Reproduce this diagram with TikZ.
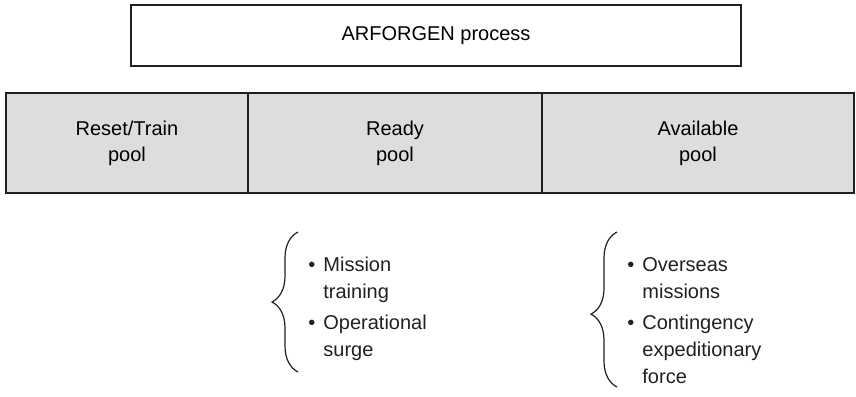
\documentclass[tikz,border=0pt]{standalone}
\usepackage{fontspec}
\setmainfont{Liberation Sans}
\usepackage{xcolor}
\usepackage{tikz}
\usetikzlibrary{positioning, decorations.pathreplacing}

\definecolor{poolgray}{RGB}{220,221,223}
\definecolor{edgegray}{RGB}{35,31,32}

\begin{document}
\begin{tikzpicture}[x=0.5pt, y=-0.5pt, node distance=0pt,
    titlebox/.style={rectangle, draw=edgegray, line width=1pt, minimum width=305pt, minimum height=30.5pt, font=\fontsize{10}{13}\selectfont},
    pool/.style={rectangle, draw=edgegray, fill=poolgray, line width=1pt, minimum height=50pt, align=center, inner sep=0pt, outer sep=0pt, font=\fontsize{10}{13}\selectfont},
    items/.style={anchor=base west, inner sep=0pt, font=\fontsize{10}{13.5}\selectfont, text=edgegray},
    curly/.style={draw=edgegray, line width=0.6pt, decorate, decoration={brace, amplitude=13pt}}]

    \useasboundingbox (0,0) rectangle (856,396);

    \node [titlebox] (arforgen) at (436,35.5) {ARFORGEN process};

    \node [pool, minimum width=121pt, anchor=north west] (reset) at (6,93) {Reset/Train\\pool};
    \node [pool, minimum width=147pt, right=0pt of reset] (ready) {Ready\\pool};
    \node [pool, minimum width=156pt, right=0pt of ready] (available) {Available\\pool};

    \node [items] (ready items) at (308,271) {\begin{tabular}[t]{@{}l@{\hspace{4pt}}l@{}}
        \textbullet & Mission\\ & training\\[2pt]
        \textbullet & Operational\\ & surge
    \end{tabular}};
    \node [items] (available items) at (627,271) {\begin{tabular}[t]{@{}l@{\hspace{4pt}}l@{}}
        \textbullet & Overseas\\ & missions\\[2pt]
        \textbullet & Contingency\\ & expeditionary\\ & force
    \end{tabular}};

    \coordinate (ready low) at (298,372);
    \coordinate (ready high) at (298,232);
    \coordinate (available low) at (617,387);
    \coordinate (available high) at (617,232);

    \draw [curly] (ready low) -- (ready high);
    \draw [curly, decoration={aspect=0.47}] (available low) -- (available high);
\end{tikzpicture}
\end{document}
